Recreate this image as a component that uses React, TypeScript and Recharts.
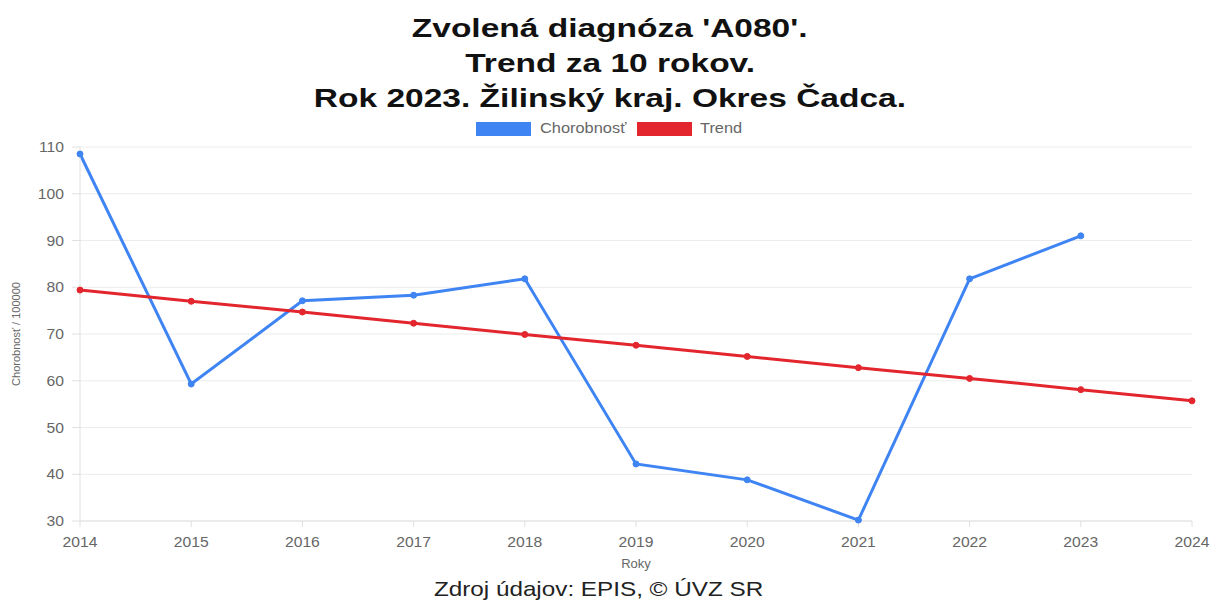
import React from "react";
import { LineChart, Line, XAxis, YAxis, CartesianGrid, Label } from "recharts";

const years = [2014, 2015, 2016, 2017, 2018, 2019, 2020, 2021, 2022, 2023, 2024];
const chorobnost = [108.5, 59.3, 77.1, 78.3, 81.8, 42.2, 38.8, 30.2, 81.8, 91.0, null];
const trend = [79.4, 77.0, 74.7, 72.3, 69.9, 67.6, 65.2, 62.8, 60.5, 58.1, 55.7];
const yTicks = [30, 40, 50, 60, 70, 80, 90, 100, 110];
const titleLines = ["Zvolená diagnóza 'A080'.", "Trend za 10 rokov.", "Rok 2023. Žilinský kraj. Okres Čadca."];

const BLUE = "#3f84f3";
const RED = "#e3262d";
const FONT = "'Liberation Sans', Arial, sans-serif";
const STRETCH = 1.12;

const data = years.map((year, i) => ({ year, chorobnost: chorobnost[i], trend: trend[i] }));

const XTick = (props: any) => {
    const { x, y, payload } = props;
    return (
        <g transform={`translate(${x},${y})`}>
            <text transform={`scale(${STRETCH},1)`} textAnchor="middle" dy={12} fill="#666" fontSize={14} fontFamily={FONT}>
                {payload.value}
            </text>
        </g>
    );
};

const YTick = (props: any) => {
    const { x, y, payload } = props;
    return (
        <g transform={`translate(${x},${y})`}>
            <text transform={`scale(${STRETCH},1)`} textAnchor="end" dy={5} fill="#666" fontSize={14} fontFamily={FONT}>
                {payload.value}
            </text>
        </g>
    );
};

const stretched = (scale: number): React.CSSProperties => ({
    display: "inline-block",
    transform: `scaleX(${scale})`,
});

const App: React.FC = () => {
    return (
        <div style={{ position: "absolute", left: 0, top: 0, width: 1220, height: 601, background: "#fff", fontFamily: FONT }}>
            <div style={{ position: "absolute", top: 11, left: 0, width: 1220, textAlign: "center", fontWeight: "bold", fontSize: 25, lineHeight: "35px", color: "#111" }}>
                {titleLines.map((t) => (
                    <div key={t}>
                        <span style={stretched(1.34)}>{t}</span>
                    </div>
                ))}
            </div>
            <div style={{ position: "absolute", top: 122, left: 476, width: 55, height: 14, background: BLUE }} />
            <div style={{ position: "absolute", top: 120, left: 540, fontSize: 14, color: "#666", transform: "scaleX(1.17)", transformOrigin: "left" }}>
                Chorobnosť
            </div>
            <div style={{ position: "absolute", top: 122, left: 637, width: 55, height: 14, background: RED }} />
            <div style={{ position: "absolute", top: 120, left: 700, fontSize: 14, color: "#666", transform: "scaleX(1.17)", transformOrigin: "left" }}>
                Trend
            </div>
            <LineChart width={1220} height={601} data={data} margin={{ top: 147, right: 28, bottom: 30, left: 0 }}>
                <CartesianGrid vertical={false} stroke="#ececec" />
                <XAxis
                    dataKey="year"
                    type="number"
                    domain={[2014, 2024]}
                    ticks={years}
                    height={50}
                    tickSize={6}
                    tickMargin={8}
                    stroke="#e0e0e0"
                    tick={<XTick />}
                >
                    <Label value="Roky" position="insideBottom" offset={3} style={{ fill: "#666", fontSize: 13, fontFamily: FONT }} />
                </XAxis>
                <YAxis
                    domain={[30, 110]}
                    ticks={yTicks}
                    width={80}
                    tickSize={8}
                    tickMargin={8}
                    stroke="#e0e0e0"
                    tick={<YTick />}
                >
                    <Label
                        value="Chorobnosť / 100000"
                        angle={-90}
                        position="insideLeft"
                        offset={16}
                        style={{ textAnchor: "middle", fill: "#666", fontSize: 11, fontFamily: FONT }}
                    />
                </YAxis>
                <Line
                    dataKey="chorobnost"
                    stroke={BLUE}
                    strokeWidth={3}
                    dot={{ r: 3, fill: BLUE, stroke: BLUE, strokeWidth: 1 }}
                    isAnimationActive={false}
                />
                <Line
                    dataKey="trend"
                    stroke={RED}
                    strokeWidth={3}
                    dot={{ r: 3, fill: RED, stroke: RED, strokeWidth: 1 }}
                    isAnimationActive={false}
                />
            </LineChart>
            <div style={{ position: "absolute", top: 577, left: 0, width: 1198, textAlign: "center", fontSize: 21, color: "#222" }}>
                <span style={stretched(1.155)}>Zdroj údajov: EPIS, © ÚVZ SR</span>
            </div>
        </div>
    );
};

export default App;
